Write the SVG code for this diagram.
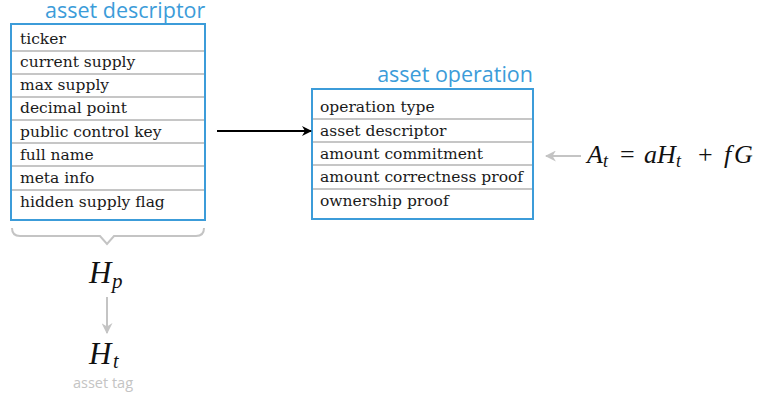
<svg xmlns="http://www.w3.org/2000/svg" width="757" height="396" viewBox="0 0 757 396">
<defs>
<style>
.title{font-family:"Open Sans","Liberation Sans",sans-serif;font-size:21.5px;fill:#3c9cd9}
.row{font-family:"DejaVu Serif","Liberation Serif",serif;font-size:15.5px;fill:#1a1a1a}
.box{fill:#fff;stroke:#3c9cd9;stroke-width:2}
.sep{stroke:#c6c6c6;stroke-width:2}
.math{font-family:"Liberation Serif","DejaVu Serif",serif;font-style:italic;fill:#111}
.mathr{font-family:"Liberation Serif","DejaVu Serif",serif;font-style:normal;fill:#111}
.gray{stroke:#c4c4c4;stroke-width:2;fill:none}
</style>
<marker id="ab" viewBox="0 0 10 10" refX="9" refY="5" markerWidth="10" markerHeight="10" markerUnits="userSpaceOnUse" orient="auto"><path d="M0,0 L10,5 L0,10 L3,5 Z" fill="#000"/></marker>
<marker id="ag" viewBox="0 0 10 10" refX="9" refY="5" markerWidth="11" markerHeight="11" markerUnits="userSpaceOnUse" orient="auto"><path d="M0,0 L10,5 L0,10 L3,5 Z" fill="#c4c4c4"/></marker>
</defs>
<g id="asset-descriptor">
<text class="title" x="45" y="18">asset descriptor</text>
<rect class="box" x="11" y="24" width="194" height="196"/>
<line class="sep" x1="12" y1="51" x2="204" y2="51"/>
<line class="sep" x1="12" y1="74" x2="204" y2="74"/>
<line class="sep" x1="12" y1="97" x2="204" y2="97"/>
<line class="sep" x1="12" y1="120" x2="204" y2="120"/>
<line class="sep" x1="12" y1="143" x2="204" y2="143"/>
<line class="sep" x1="12" y1="166" x2="204" y2="166"/>
<line class="sep" x1="12" y1="190" x2="204" y2="190"/>
<text class="row" x="20" y="44">ticker</text>
<text class="row" x="20" y="67">current supply</text>
<text class="row" x="20" y="90">max supply</text>
<text class="row" x="20" y="113">decimal point</text>
<text class="row" x="20" y="137">public control key</text>
<text class="row" x="20" y="160">full name</text>
<text class="row" x="20" y="183">meta info</text>
<text class="row" x="20" y="207">hidden supply flag</text>
</g>
<g id="asset-operation">
<text class="title" x="533" y="82" text-anchor="end">asset operation</text>
<rect class="box" x="312" y="89" width="221" height="130"/>
<line class="sep" x1="313" y1="119" x2="532" y2="119"/>
<line class="sep" x1="313" y1="142" x2="532" y2="142"/>
<line class="sep" x1="313" y1="165" x2="532" y2="165"/>
<line class="sep" x1="313" y1="189" x2="532" y2="189"/>
<text class="row" x="320" y="112">operation type</text>
<text class="row" x="320" y="136">asset descriptor</text>
<text class="row" x="320" y="159">amount commitment</text>
<text class="row" x="320" y="182">amount correctness proof</text>
<text class="row" x="320" y="206">ownership proof</text>
</g>
<g id="brace">
<path class="gray" d="M12,228 Q12,236 20,236 L100,236 L107,244 L114,236 L196,236 Q204,236 204,228"/>
</g>
<g id="Hp">
<text class="math" font-size="31" x="89" y="283">H<tspan font-size="21" x="112" y="288">p</tspan></text>
</g>
<g id="Ht">
<text class="math" font-size="31" x="89" y="364">H<tspan font-size="20" x="113" y="368">t</tspan></text>
<text x="103" y="388" text-anchor="middle" font-family="Open Sans, Liberation Sans, sans-serif" font-size="14.5" fill="#c4c4c4">asset tag</text>
</g>
<g id="formula">
<text class="math" font-size="26" x="587" y="163">A<tspan font-size="18" x="603" y="167">t</tspan><tspan class="mathr" x="620" y="163">=</tspan><tspan x="644" y="163">a</tspan><tspan x="657" y="163">H</tspan><tspan font-size="18" x="676" y="167">t</tspan><tspan class="mathr" x="698" y="163">+</tspan><tspan x="724" y="163">f</tspan><tspan x="734" y="163">G</tspan></text>
</g>
<g id="connectors">
<line x1="217" y1="131" x2="311" y2="131" stroke="#000" stroke-width="2" marker-end="url(#ab)"/>
<line class="gray" x1="107" y1="297" x2="107" y2="333" marker-end="url(#ag)"/>
<line class="gray" x1="581" y1="156" x2="546" y2="156" marker-end="url(#ag)"/>
</g>
</svg>
